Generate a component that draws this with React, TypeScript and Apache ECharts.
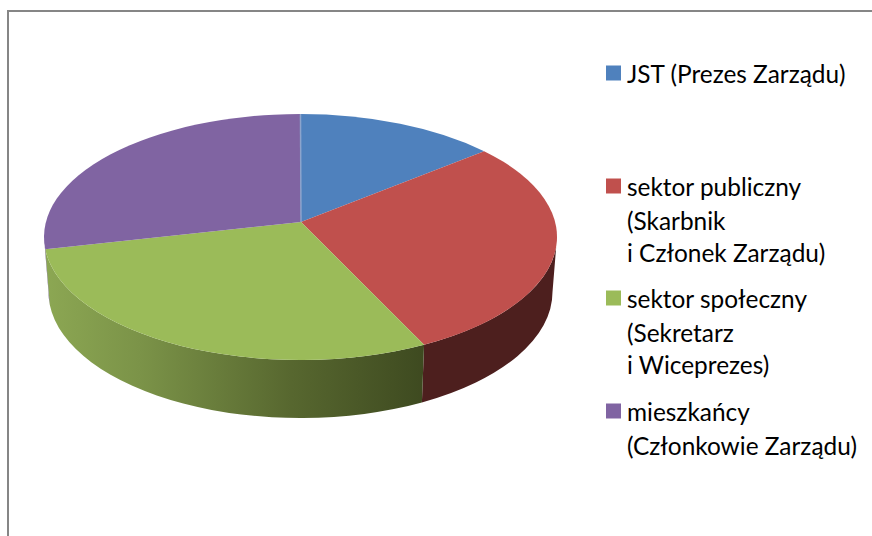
import React, { useEffect, useRef } from "react";
import * as echarts from "echarts";

const names = [
  "JST (Prezes Zarządu)",
  "sektor publiczny\n(Skarbnik\ni Członek Zarządu)",
  "sektor społeczny\n(Sekretarz\ni Wiceprezes)",
  "mieszkańcy\n(Członkowie Zarządu)",
];
const values = [12.7, 29.3, 31.4, 26.6];
const colors = ["#4f81bd", "#c0504d", "#9bbb59", "#8064a2"];
const swatchTops = [67, 180, 292, 405];
const LINE = 32.5;
const FONT = { fontFamily: "Lato", fontSize: 24.4, color: "#000" };

const total = values.reduce((a, b) => a + b, 0);
const APEX = { x: 301, y: 222 };
const TOP = { cx: 300.5, cy: 237, rx: 256.5, ry: 123 };
const BOT = { cx: 300.5, cy: 292, rx: 252, ry: 126 };

const pt = (e: typeof TOP, a: number) => [e.cx + e.rx * Math.sin(a), e.cy - e.ry * Math.cos(a)];

function topPath(a0: number, a1: number) {
  const s = pt(TOP, a0);
  const t = pt(TOP, a1);
  const large = a1 - a0 > Math.PI ? 1 : 0;
  return `M${APEX.x} ${APEX.y}L${s[0]} ${s[1]}A${TOP.rx} ${TOP.ry} 0 ${large} 1 ${t[0]} ${t[1]}Z`;
}

function sidePath(a0: number, a1: number) {
  const s = pt(TOP, a0);
  const t = pt(TOP, a1);
  const u = pt(BOT, a1);
  const v = pt(BOT, a0);
  return `M${s[0]} ${s[1]}A${TOP.rx} ${TOP.ry} 0 0 1 ${t[0]} ${t[1]}L${u[0]} ${u[1]}A${BOT.rx} ${BOT.ry} 0 0 0 ${v[0]} ${v[1]}Z`;
}

const sideFills: any[] = [
  null,
  "#4d1f1e",
  new echarts.graphic.LinearGradient(0, 0, 1, 0, [
    { offset: 0, color: "#8ca753" },
    { offset: 0.25, color: "#7b9348" },
    { offset: 0.65, color: "#57672f" },
    { offset: 1, color: "#3e4a20" },
  ]),
  "#4a3a63",
];

export default function App() {
  const ref = useRef<HTMLDivElement>(null);
  useEffect(() => {
    const chart = echarts.init(ref.current!, null, { renderer: "svg" });
    let acc = 0;
    const ranges = values.map((v) => {
      const a0 = (acc / total) * Math.PI * 2;
      acc += v;
      return [a0, (acc / total) * Math.PI * 2];
    });
    const series = names.map((name, i) => ({
      type: "custom",
      name,
      coordinateSystem: "none",
      silent: true,
      itemStyle: { color: colors[i] },
      data: [[values[i]]],
      renderItem: () => {
        const [a0, a1] = ranges[i];
        const children: any[] = [];
        const sa0 = Math.max(a0, Math.PI / 2);
        const sa1 = Math.min(a1, (Math.PI * 3) / 2);
        if (sa1 > sa0 && sideFills[i]) {
          children.push({
            type: "path",
            shape: { pathData: sidePath(sa0, sa1) },
            style: { fill: sideFills[i] },
          });
        }
        children.push({
          type: "path",
          shape: { pathData: topPath(a0, a1) },
          style: { fill: colors[i] },
        });
        if (i === 0) {
          const s = pt(TOP, a0);
          children.push({
            type: "line",
            z2: 10,
            shape: { x1: APEX.x, y1: APEX.y, x2: s[0], y2: s[1] },
            style: { stroke: "#8ca4cc", lineWidth: 1.5 },
          });
        }
        return { type: "group", children };
      },
    }));
    const extraLines: any[] = [];
    names.forEach((name, i) => {
      name
        .split("\n")
        .slice(1)
        .forEach((line, k) => {
          extraLines.push({
            type: "text",
            silent: true,
            x: 627,
            y: swatchTops[i] + 7.5 + LINE * (k + 1),
            style: { text: line, ...FONT, fill: "#000", verticalAlign: "middle", align: "left" },
          });
        });
    });
    chart.setOption({
      animation: false,
      backgroundColor: "#fff",
      graphic: [
        {
          type: "rect",
          silent: true,
          z: -1,
          shape: { x: 8, y: 11, width: 900, height: 600 },
          style: { fill: "#fff", stroke: "#868686", lineWidth: 2 },
        },
        ...extraLines,
      ],
      legend: names.map((name, i) => ({
        show: true,
        orient: "vertical",
        left: 606,
        top: swatchTops[i] - 6,
        padding: 0,
        selectedMode: false,
        icon: "rect",
        itemWidth: 15,
        itemHeight: 15,
        itemGap: 0,
        data: [{ name, itemStyle: { color: colors[i] } }],
        formatter: (n: string) => n.split("\n")[0],
        textStyle: { ...FONT, padding: [0, 0, 0, 1] },
      })),
      series,
    });
    return () => chart.dispose();
  }, []);
  return (
    <div
      ref={ref}
      style={{ position: "fixed", left: 0, top: 0, width: 872, height: 536 }}
    />
  );
}
